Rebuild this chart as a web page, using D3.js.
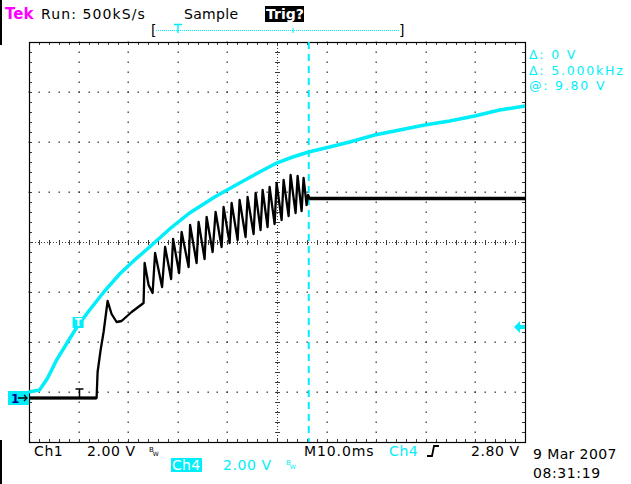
<!DOCTYPE html>
<html>
<head>
<meta charset="utf-8">
<script src="https://cdn.jsdelivr.net/npm/d3@7"></script>
<style>
body{margin:0;background:#fff;}
svg{display:block;font-family:"DejaVu Sans",sans-serif;}
</style>
</head>
<body>
<div id="scope"></div>
<script>
// Ch4 (cyan) - time in ms, volts
var ch4Time  = [-10, -7.86, -6.25, -4.44, -2.22, -0.2, 2.22, 5.24, 8.27, 11.29, 14.31, 18.35, 22.38, 27.42, 32.46, 36.49, 39.92, 43.15, 46.37, 50.6, 54.64, 59.68, 64.72, 69.76, 74.8, 79.84, 84.88, 90];
var ch4Volts = [0.2, 0.28, 0.76, 1.48, 2.2, 2.84, 3.48, 4.24, 4.92, 5.48, 6.0, 6.72, 7.36, 8.0, 8.56, 9.0, 9.36, 9.6, 9.8, 10.0, 10.2, 10.48, 10.68, 10.88, 11.04, 11.24, 11.48, 11.64];

// Ch1 (black)
var ch1Time  = [-10, 3.63, 3.83, 4.44, 5.04, 5.85, 6.65, 7.66, 8.67, 10.69, 13.1, 13.31, 14.11, 14.92,
  15.42, 16.83, 17.44, 18.65, 19.05, 20.26, 20.77, 22.18, 22.48, 23.79, 24.19, 25.4, 25.81, 27.02,
  27.62, 28.83, 29.23, 30.44, 30.85, 32.06, 32.46, 33.67, 34.07, 35.28, 35.69, 36.69, 37.1, 38.1,
  38.51, 39.52, 39.92, 40.93, 41.33, 42.34, 42.74, 43.75, 44.15, 44.96, 45.36, 45.97, 46.27, 46.57, 90];
var ch1Volts = [0, 0, 1.04, 1.92, 2.64, 3.88, 3.36, 3.04, 3.08, 3.44, 3.8, 5.4, 4.52, 4.2,
  5.8, 4.44, 6.04, 4.76, 6.36, 5.0, 6.64, 5.24, 6.92, 5.4, 7.04, 5.56, 7.24, 5.84,
  7.44, 6.04, 7.64, 6.2, 7.8, 6.32, 7.92, 6.44, 8.04, 6.56, 8.2, 6.72, 8.32, 6.84,
  8.44, 6.96, 8.6, 7.12, 8.72, 7.28, 8.92, 7.4, 8.88, 7.48, 8.8, 7.72, 8.12, 7.98, 7.98];

var cursorTime = 46.4;
var statusTexts = ["Run: 500kS/s", "Sample", "Trig?"];
var readouts = ["\u0394: 0 V", "\u0394: 5.000kHz", "@: 9.80 V"];
var bottomTexts = ["Ch1", "2.00 V", "M10.0ms", "Ch4", "2.80 V", "9 Mar 2007", "08:31:19", "Ch4", "2.00 V"];

var W = 631, H = 484;
var CYAN = "#00eefa", DOT = "#3a3a3a";
var pL = 29, pR = 525, pT = 42, pB = 442;

var svg = d3.select("#scope").append("svg").attr("width", W).attr("height", H);
svg.append("rect").attr("width", W).attr("height", H).attr("fill", "#fff");

var x = d3.scaleLinear().domain([-10, 90]).range([pL, pR]);
var y1 = d3.scaleLinear().domain([-1.76, 14.24]).range([pB, pT]);
var y4 = d3.scaleLinear().domain([-1.8, 14.2]).range([pB, pT]);
var gx = d3.scaleLinear().domain([0, 10]).range([pL, pR]);
var gy = d3.scaleLinear().domain([0, 8]).range([pB, pT]);

// graticule
var grid = svg.append("g");
var dots = [];
for (var j = 1; j < 8; j++) {
  if (j == 4) continue;
  for (var i = 0; i <= 50; i++) dots.push([gx(i / 5), gy(j)]);
}
for (var i = 1; i < 10; i++) {
  if (i == 5) continue;
  for (var k = 0; k <= 40; k++) dots.push([gx(i), gy(k / 5)]);
}
grid.selectAll("rect.dot").data(dots).enter().append("rect")
  .attr("class", "dot")
  .attr("x", function(d){ return Math.round(d[0]) - 0.5; })
  .attr("y", function(d){ return Math.round(d[1]) - 0.5; })
  .attr("width", 1.4).attr("height", 1.4).attr("fill", DOT);

// centre lines
grid.append("line").attr("x1", pL).attr("x2", pR).attr("y1", gy(4) + 0.5).attr("y2", gy(4) + 0.5)
  .attr("stroke", DOT).attr("stroke-dasharray", "1,2");
grid.append("line").attr("y1", pT).attr("y2", pB).attr("x1", Math.round(gx(5)) + 0.5).attr("x2", Math.round(gx(5)) + 0.5)
  .attr("stroke", DOT).attr("stroke-dasharray", "1,2");
var cTicks = grid.append("g").attr("stroke", DOT).attr("stroke-width", 1);
d3.range(0, 51).forEach(function(i){
  var px = Math.round(gx(i / 5)) + 0.5;
  cTicks.append("line").attr("x1", px).attr("x2", px).attr("y1", gy(4) - 2).attr("y2", gy(4) + 3);
  cTicks.append("line").attr("x1", px).attr("x2", px).attr("y1", pT).attr("y2", pT + 3);
  cTicks.append("line").attr("x1", px).attr("x2", px).attr("y1", pB - 3).attr("y2", pB);
});
d3.range(0, 41).forEach(function(k){
  var py = Math.round(gy(k / 5)) + 0.5;
  cTicks.append("line").attr("y1", py).attr("y2", py).attr("x1", gx(5) - 2).attr("x2", gx(5) + 3);
  cTicks.append("line").attr("y1", py).attr("y2", py).attr("x1", pL).attr("x2", pL + 3);
  cTicks.append("line").attr("y1", py).attr("y2", py).attr("x1", pR - 3).attr("x2", pR);
});
grid.append("rect").attr("x", pL + 0.5).attr("y", pT + 0.5).attr("width", pR - pL).attr("height", pB - pT)
  .attr("fill", "none").attr("stroke", "#000").attr("stroke-width", 1.2);

// cursor
svg.append("line").attr("x1", x(cursorTime)).attr("x2", x(cursorTime)).attr("y1", pT).attr("y2", pB)
  .attr("stroke", CYAN).attr("stroke-width", 2).attr("stroke-dasharray", "7,5");

// traces
var ch4 = ch4Time.map(function(t, i){ return [t, ch4Volts[i]]; });
var ch1 = ch1Time.map(function(t, i){ return [t, ch1Volts[i]]; });
var line4 = d3.line().x(function(d){ return x(d[0]); }).y(function(d){ return y4(d[1]); });
var line1 = d3.line().x(function(d){ return x(d[0]); }).y(function(d){ return y1(d[1]); });

svg.append("path").datum(ch4).attr("d", line4).attr("fill", "none")
  .attr("stroke", CYAN).attr("stroke-width", 3.5);
svg.append("path").datum(ch1).attr("d", line1).attr("fill", "none")
  .attr("stroke", "#000").attr("stroke-width", 2.3).attr("stroke-linejoin", "round");
svg.append("path").datum(ch1.filter(function(d){ return d[0] <= 3.63; })).attr("d", line1)
  .attr("fill", "none").attr("stroke", "#000").attr("stroke-width", 3);
svg.append("path").datum(ch1.filter(function(d){ return d[0] >= 46.57; })).attr("d", line1)
  .attr("fill", "none").attr("stroke", "#000").attr("stroke-width", 3.5);

// trigger point marker on trace (T)
var tx = Math.round(x(0)) + 0.5;
svg.append("path").attr("d", "M" + (tx - 4) + ",389H" + (tx + 4) + "M" + tx + ",389V397")
  .attr("stroke", "#000").attr("stroke-width", 1.5).attr("fill", "none");
// ch4 trigger box on cyan trace
svg.append("rect").attr("x", x(0) - 6).attr("y", y4(2.8) - 10).attr("width", 11).attr("height", 11).attr("fill", CYAN);
svg.append("text").attr("x", x(0) - 0.5).attr("y", y4(2.8) - 1).attr("text-anchor", "middle")
  .attr("font-size", 10).attr("font-weight", "bold").attr("fill", "#fff").text("T");

// trigger level arrow on right
var ly = y4(2.8);
svg.append("path").attr("d", "M514," + ly + "L520," + (ly - 6) + "V" + (ly - 2) + "H525V" + (ly + 2) + "H520V" + (ly + 6) + "Z")
  .attr("fill", CYAN);

// ground marker "1 ->"
svg.append("rect").attr("x", 8).attr("y", 391).attr("width", 21).attr("height", 14).attr("fill", CYAN);
svg.append("text").attr("x", 11).attr("y", 403).attr("font-size", 12).attr("font-weight", "bold").attr("fill", "#00008b").text("1");
svg.append("path").attr("d", "M18,398H27M24,395L27,398L24,401").attr("stroke", "#000").attr("stroke-width", 1.3).attr("fill", "none");

// header
svg.append("rect").attr("x", 0).attr("y", 0).attr("width", 2).attr("height", 45).attr("fill", "#000");
svg.append("rect").attr("x", 0).attr("y", 440).attr("width", 2).attr("height", 44).attr("fill", "#000");
function label(str, px, py, col, ls){
  return svg.append("text").attr("x", px).attr("y", py).attr("font-size", 14)
    .attr("letter-spacing", ls == null ? 0.6 : ls).attr("fill", col).text(str);
}
svg.append("text").attr("x", 5).attr("y", 19).attr("font-size", 15).attr("font-weight", "bold").attr("fill", "#ff00ff").text("Tek");
label(statusTexts[0], 41, 19, "#000", 1.1);
label(statusTexts[1], 184, 19, "#000", 0.3);
svg.append("rect").attr("x", 265).attr("y", 6).attr("width", 39).attr("height", 16).attr("fill", "#000");
svg.append("text").attr("x", 266).attr("y", 19).attr("font-size", 14).attr("font-weight", "bold").attr("fill", "#fff").text(statusTexts[2]);

// record bar
svg.append("text").attr("x", 151).attr("y", 35).attr("font-size", 14).attr("fill", "#000").text("[");
svg.append("text").attr("x", 399).attr("y", 35).attr("font-size", 14).attr("fill", "#000").text("]");
svg.append("line").attr("x1", 156).attr("x2", 400).attr("y1", 30.5).attr("y2", 30.5)
  .attr("stroke", CYAN).attr("stroke-width", 1).attr("stroke-dasharray", "1,1");
svg.append("path").attr("d", "M174,24.5H182M178,24V33").attr("stroke", CYAN).attr("stroke-width", 1.5);
svg.append("line").attr("x1", 293).attr("x2", 293).attr("y1", 28).attr("y2", 33).attr("stroke", CYAN);

// cursor readouts
svg.selectAll("text.readout").data(readouts).enter().append("text")
  .attr("class", "readout").attr("x", 529)
  .attr("y", function(d, i){ return [59, 75, 90][i]; })
  .attr("font-size", 12.5).attr("letter-spacing", 1.8).attr("fill", CYAN).text(function(d){ return d; });

// bottom
function bw(px, py, col){
  var t = svg.append("text").attr("x", px).attr("y", py).attr("font-size", 7).attr("fill", col);
  t.append("tspan").text("B");
  t.append("tspan").attr("dy", 4).attr("dx", -1).attr("font-size", 6).text("W");
}
label(bottomTexts[0], 34, 456, "#000");
label(bottomTexts[1], 87, 456, "#000");
bw(149, 452, "#000");
label(bottomTexts[2], 304, 456, "#000", 0.9);
label(bottomTexts[3], 389, 456, CYAN);
svg.append("path").attr("d", "M427,456H432L434,446H439").attr("stroke", "#000").attr("stroke-width", 1.8).attr("fill", "none");
label(bottomTexts[4], 471, 456, "#000");
label(bottomTexts[5], 533, 459, "#000", 0.4);
label(bottomTexts[6], 533, 478, "#000", 0.6);
svg.append("rect").attr("x", 171).attr("y", 458).attr("width", 31).attr("height", 14).attr("fill", CYAN);
label(bottomTexts[7], 172, 470, "#fff", 0.3);
label(bottomTexts[8], 223, 470, CYAN);
bw(286, 465, CYAN);
</script>
</body>
</html>
